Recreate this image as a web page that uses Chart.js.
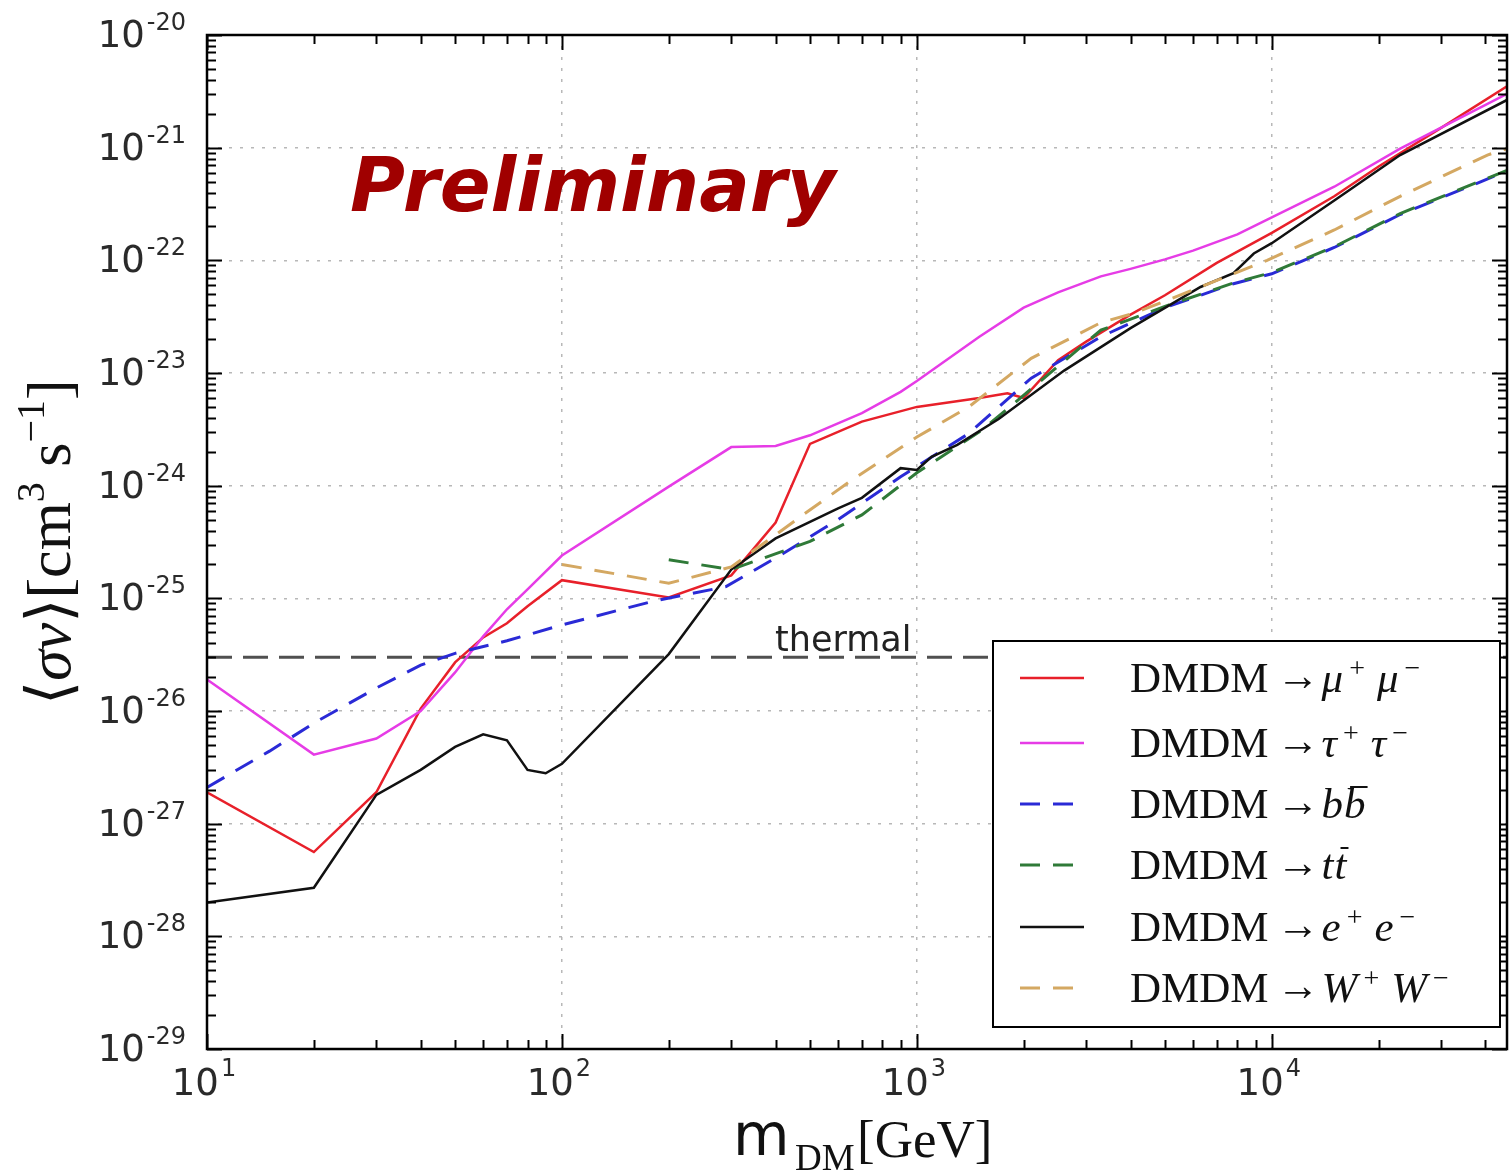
<!DOCTYPE html>
<html><head><meta charset="utf-8">
<script src="https://cdn.jsdelivr.net/npm/chart.js@4.4.1/dist/chart.umd.min.js"></script>
<style>html,body{margin:0;padding:0;background:#fff}canvas{display:block}</style>
</head><body>
<canvas id="c" width="1512" height="1173"></canvas>
<script>
// ---------- data ----------
const X_TICKS = [10, 100, 1000, 10000];
const X_TICK_EXP = ['1', '2', '3', '4'];
const Y_TICKS = [1e-29, 1e-28, 1e-27, 1e-26, 1e-25, 1e-24, 1e-23, 1e-22, 1e-21, 1e-20];
const Y_TICK_EXP = ['-29', '-28', '-27', '-26', '-25', '-24', '-23', '-22', '-21', '-20'];
const X_MIN = 10, X_MAX = 46000, Y_MIN = 1e-29, Y_MAX = 1e-20;
const THERMAL = 3e-26;

const MASS_MUMU = [10,20,30,40,50,60,70,80,100,200,300,400,500,700,1000,1500,1800,2000,2500,3000,4000,5000,7000,10000,15000,20000,30000,46000];
const SV_MUMU = [1.9e-27,5.6e-28,1.9e-27,1.05e-26,2.7e-26,4.5e-26,6.0e-26,8.5e-26,1.45e-25,1.02e-25,1.6e-25,4.7e-25,2.35e-24,3.7e-24,5.0e-24,6.0e-24,6.6e-24,6.0e-24,1.3e-23,1.9e-23,3.3e-23,4.9e-23,9.5e-23,1.75e-22,3.7e-22,6.8e-22,1.5e-21,3.5e-21];

const MASS_TAUTAU = [10,20,30,40,50,60,70,80,100,200,300,400,500,700,900,1000,1500,2000,2500,3300,4000,5000,6000,8000,10000,15000,23000,46000];
const SV_TAUTAU = [1.9e-26,4.1e-27,5.7e-27,1.0e-26,2.2e-26,4.6e-26,8.0e-26,1.2e-25,2.4e-25,9.8e-25,2.2e-24,2.25e-24,2.8e-24,4.4e-24,6.8e-24,8.5e-24,2.1e-23,3.8e-23,5.2e-23,7.2e-23,8.4e-23,1.02e-22,1.22e-22,1.7e-22,2.4e-22,4.5e-22,9.8e-22,3.0e-21];

const MASS_BB = [10,15,20,30,40,50,70,100,180,290,420,600,900,1400,2100,3300,5000,7800,10000,15000,23000,46000];
const SV_BB = [2.1e-27,4.4e-27,7.8e-27,1.6e-26,2.55e-26,3.25e-26,4.2e-26,5.8e-26,9.4e-26,1.27e-25,2.5e-25,5.0e-25,1.2e-24,2.9e-24,9.0e-24,2.1e-23,3.8e-23,6.2e-23,7.6e-23,1.3e-22,2.55e-22,6.2e-22];

const MASS_TT = [200,300,500,700,1000,1500,1800,3300,5000,7800,10000,15000,23000,46000];
const SV_TT = [2.2e-25,1.8e-25,3.2e-25,5.5e-25,1.3e-24,3.0e-24,4.8e-24,2.4e-23,3.9e-23,6.3e-23,7.8e-23,1.32e-22,2.6e-22,6.3e-22];

const MASS_EE = [10,20,30,40,50,60,70,80,90,100,200,300,400,600,700,900,1000,1100,1300,1700,2600,4000,6300,7800,8900,10000,15000,23000,46000];
const SV_EE = [2.0e-28,2.7e-28,1.8e-27,3.0e-27,4.8e-27,6.2e-27,5.5e-27,3.0e-27,2.8e-27,3.4e-27,3.2e-26,1.8e-25,3.4e-25,6.3e-25,7.8e-25,1.43e-24,1.38e-24,1.8e-24,2.3e-24,3.9e-24,1.05e-23,2.5e-23,5.8e-23,7.7e-23,1.15e-22,1.42e-22,3.4e-22,8.6e-22,2.65e-21];

const MASS_WW = [100,200,300,470,650,1000,1400,2100,3300,4100,6300,9700,15000,23000,40500,46000];
const SV_WW = [2.0e-25,1.36e-25,1.9e-25,5.3e-25,1.1e-24,2.7e-24,5.0e-24,1.35e-23,2.8e-23,3.4e-23,5.8e-23,1.0e-22,1.86e-22,3.7e-22,8.6e-22,9.8e-22];

// legend final states: [symbol, superscript, overbar]
const LEGEND_PRODUCTS = [
  [['μ','+',false],['μ','−',false]],
  [['τ','+',false],['τ','−',false]],
  [['b','',false],['b','',true]],
  [['t','',false],['t','',true]],
  [['e','+',false],['e','−',false]],
  [['W','+',false],['W','−',false]]
];

// ---------- styles ----------
const STYLES = [
  {color:'#e8202a', width:2.5, dash:[]},
  {color:'#e63ce6', width:2.5, dash:[]},
  {color:'#2a2ad6', width:3,   dash:[20,13]},
  {color:'#2f7a38', width:3,   dash:[20,13]},
  {color:'#111111', width:2.5, dash:[]},
  {color:'#d4a862', width:3,   dash:[20,13]}
];
const SERIES_MASS = [MASS_MUMU, MASS_TAUTAU, MASS_BB, MASS_TT, MASS_EE, MASS_WW];
const SERIES_SV = [SV_MUMU, SV_TAUTAU, SV_BB, SV_TT, SV_EE, SV_WW];

const datasets = SERIES_MASS.map((m, i) => ({
  data: m.map((v, j) => ({x: v, y: SERIES_SV[i][j]})),
  borderColor: STYLES[i].color,
  borderWidth: STYLES[i].width,
  borderDash: STYLES[i].dash,
  pointRadius: 0,
  tension: 0,
  fill: false,
  order: 10 - i
}));
datasets.push({
  data: [{x: X_MIN, y: THERMAL}, {x: X_MAX, y: THERMAL}],
  borderColor: '#505050', borderWidth: 3, borderDash: [25, 11],
  pointRadius: 0, fill: false, order: 20
});

const SERIF = '"Liberation Serif","DejaVu Serif","DejaVu Sans",serif';
const SANS = '"DejaVu Sans",sans-serif';

const decor = {
  id: 'decor',
  afterDraw(chart) {
    const {ctx, chartArea: a, scales: {x, y}} = chart;
    ctx.save();
    ctx.setLineDash([]);
    const line = (x1, y1, x2, y2) => { ctx.beginPath(); ctx.moveTo(x1, y1); ctx.lineTo(x2, y2); ctx.stroke(); };

    // tick marks
    ctx.strokeStyle = '#000'; ctx.lineWidth = 2;
    for (let e = 1; e <= 4; e++) for (let k = 1; k <= 9; k++) {
      const v = k * Math.pow(10, e); if (v < X_MIN || v > X_MAX) continue;
      const px = Math.round(x.getPixelForValue(v)) + 0.5; const L = k === 1 ? 15 : 9;
      line(px, a.bottom, px, a.bottom - L); line(px, a.top, px, a.top + L);
    }
    for (let e = -29; e <= -20; e++) for (let k = 1; k <= 9; k++) {
      const v = k * Math.pow(10, e); if (v < Y_MIN * 0.999 || v > Y_MAX * 1.001) continue;
      const py = Math.round(y.getPixelForValue(v)) + 0.5; const L = k === 1 ? 15 : 9;
      line(a.left, py, a.left + L, py); line(a.right, py, a.right - L, py);
    }
    // frame
    ctx.lineWidth = 2.5;
    ctx.strokeRect(a.left, a.top, a.right - a.left, a.bottom - a.top);

    // tick labels
    ctx.fillStyle = '#2a2a2a'; ctx.textBaseline = 'alphabetic'; ctx.textAlign = 'left';
    X_TICKS.forEach((v, i) => {
      const px = x.getPixelForValue(v);
      ctx.font = '37px ' + SANS; const w1 = ctx.measureText('10').width;
      ctx.font = '24px ' + SANS; const w2 = ctx.measureText(X_TICK_EXP[i]).width;
      const sx = px - (w1 + w2 + 2) / 2 - 3;
      ctx.font = '37px ' + SANS; ctx.fillText('10', sx, a.bottom + 46);
      ctx.font = '24px ' + SANS; ctx.fillText(X_TICK_EXP[i], sx + w1 + 2, a.bottom + 27);
    });
    Y_TICKS.forEach((v, i) => {
      const py = y.getPixelForValue(v);
      ctx.font = '37px ' + SANS; const w1 = ctx.measureText('10').width;
      ctx.font = '24px ' + SANS; const w2 = ctx.measureText(Y_TICK_EXP[i]).width;
      const sx = 186 - (w1 + w2 + 2);
      ctx.font = '37px ' + SANS; ctx.fillText('10', sx, py + 12);
      ctx.font = '24px ' + SANS; ctx.fillText(Y_TICK_EXP[i], sx + w1 + 2, py - 5);
    });

    // x axis title
    ctx.fillStyle = '#111';
    ctx.font = '58px ' + SANS; ctx.fillText('m', 733, 1155);
    ctx.font = '37px ' + SERIF; ctx.fillText('DM', 795, 1170);
    ctx.font = '53px ' + SERIF; ctx.fillText('[GeV]', 857, 1157);

    // y axis title (rotated)
    ctx.save();
    ctx.translate(70, 705); ctx.rotate(-Math.PI / 2);
    let cx = 0;
    const put = (t, font, dy) => { ctx.font = font; ctx.fillText(t, cx, dy || 0); cx += ctx.measureText(t).width; };
    put('⟨', '62px ' + SERIF);
    put('σv', 'italic 62px ' + SERIF);
    put('⟩', '62px ' + SERIF);
    put('[cm', '62px ' + SERIF);
    put('3', '40px ' + SERIF, -26);
    put(' s', '62px ' + SERIF);
    put('−1', '40px ' + SERIF, -26);
    put(']', '62px ' + SERIF);
    ctx.restore();

    // Preliminary
    ctx.fillStyle = '#a00000';
    ctx.font = 'italic bold 75px ' + SANS;
    ctx.fillText('Preliminary', 350, 211);

    // thermal label
    ctx.fillStyle = '#222';
    ctx.font = '35px ' + SANS;
    ctx.fillText('thermal', 775, 651);

    // legend
    const L = {x: 993, y: 641, w: 507, h: 386};
    ctx.fillStyle = '#fff'; ctx.fillRect(L.x, L.y, L.w, L.h);
    ctx.strokeStyle = '#000'; ctx.lineWidth = 2; ctx.strokeRect(L.x, L.y, L.w, L.h);
    const rowY = [678, 743, 804, 865, 927, 988];
    chart.data.datasets.slice(0, 6).forEach((ds, i) => {
      const ry = rowY[i];
      ctx.strokeStyle = ds.borderColor; ctx.lineWidth = ds.borderWidth;
      ctx.setLineDash(ds.borderDash || []);
      line(1020, ry, 1084, ry);
      ctx.setLineDash([]);
      ctx.fillStyle = '#111';
      const base = ry + 14;
      let tx = 1130;
      ctx.font = '43px ' + SERIF; ctx.fillText('DMDM', tx, base); tx += ctx.measureText('DMDM').width + 8;
      ctx.fillText('→', tx, base - 2); tx += ctx.measureText('→').width + 2;
      LEGEND_PRODUCTS[i].forEach(([sym, sup, bar], j) => {
        ctx.font = 'italic 43px ' + SERIF;
        const w = ctx.measureText(sym).width;
        ctx.fillText(sym, tx, base);
        if (bar) { ctx.strokeStyle = '#111'; ctx.lineWidth = 2; line(tx + 6, base - 31, tx + w + 2, base - 31); }
        tx += w;
        if (sup) { ctx.font = '28px ' + SERIF; ctx.fillText(sup, tx + 6, base - 15); tx += ctx.measureText(sup).width + 18; }
        else tx += 1;
      });
    });
    ctx.restore();
  }
};

new Chart(document.getElementById('c'), {
  type: 'line',
  data: {datasets},
  options: {
    responsive: false,
    animation: false,
    devicePixelRatio: 1,
    layout: {padding: {left: 207, top: 35, right: 5, bottom: 124}, autoPadding: false},
    plugins: {legend: {display: false}, tooltip: {enabled: false}},
    scales: {
      x: {
        type: 'logarithmic', min: X_MIN, max: X_MAX,
        afterBuildTicks: s => { s.ticks = X_TICKS.map(v => ({value: v})); },
        ticks: {display: false},
        grid: {color: '#b8b8b8', lineWidth: 1.5, drawTicks: false},
        border: {display: false, dash: [3, 8]}
      },
      y: {
        type: 'logarithmic', min: Y_MIN, max: Y_MAX,
        afterBuildTicks: s => { s.ticks = Y_TICKS.map(v => ({value: v})); },
        ticks: {display: false},
        grid: {color: '#b8b8b8', lineWidth: 1.5, drawTicks: false},
        border: {display: false, dash: [3, 8]}
      }
    }
  },
  plugins: [decor]
});
</script>
</body></html>
